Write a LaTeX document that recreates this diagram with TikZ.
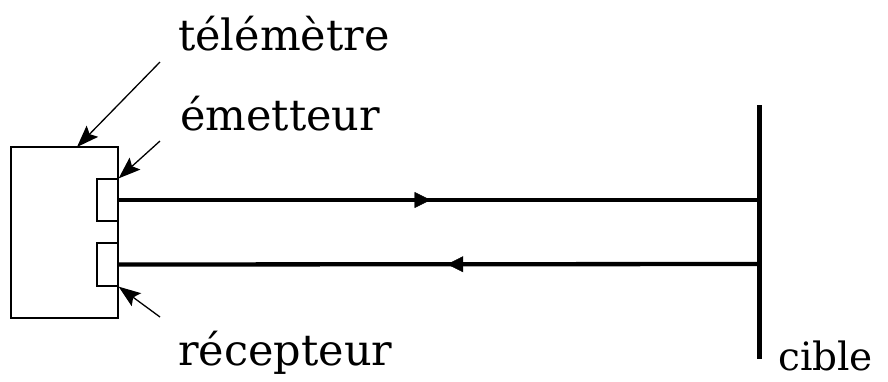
\documentclass[tikz,border=0pt]{standalone}
\usepackage{fontspec}
\setmainfont{DejaVu Serif}
\usetikzlibrary{arrows.meta,decorations.markings}
\begin{document}
\begin{tikzpicture}[x=1pt,y=-1pt,
  thin line/.style={line width=1.3pt},
  pointer/.style={line width=1.3pt,-{Stealth[length=22pt,width=16pt,inset=4pt]}},
  beam/.style={line width=4.3pt},
  label/.style={inner sep=0pt,font=\fontsize{43}{47}\selectfont},
  mid arrow/.style={decorate,decoration={markings,
     mark=at position #1 with {\arrow{Triangle[length=16pt,width=16pt]}}}}]
\useasboundingbox (0,0) rectangle (888,381);

% telemeter housing with emitter and receiver
\draw[thin line] (11,147) rectangle (118,318);
\coordinate (topbox) at (77,147);
\node[draw,thin line,minimum width=21pt,minimum height=42pt,inner sep=0pt] (em) at (107.5,200) {};
\node[draw,thin line,minimum width=21pt,minimum height=43pt,inner sep=0pt] (rec) at (107.5,264.5) {};

% target
\coordinate (ctop) at (759,105);
\coordinate (cbot) at (759,359);
\draw[line width=5pt] (ctop) -- (cbot);
\coordinate (hitA) at (759,200);
\coordinate (hitB) at (759,264);

% outgoing and returning beams
\draw[beam] (em.east) -- (hitA);
\path[mid arrow=0.487] (em.east) -- (hitA);
\draw[beam] (rec.east) -- (hitB);
\path[mid arrow=0.487] (hitB) -- (rec.east);

% labels
\node[label,anchor=base west] (tel) at (178,50) {télémètre};
\node[label,anchor=base west] (emt) at (180,130) {émetteur};
\node[label,anchor=base west] (rct) at (178,365) {récepteur};
\node[label,anchor=base west,font=\fontsize{39}{43}\selectfont] (cib) at (778,370) {cible};

% leader arrows
\coordinate (p1) at (160,62);
\coordinate (p2) at (160,141);
\coordinate (p3) at (160,317);
\draw[pointer] (p1) -- (topbox);
\draw[pointer] (p2) -- (em.north east);
\draw[pointer] (p3) -- (rec.south east);
\end{tikzpicture}
\end{document}
